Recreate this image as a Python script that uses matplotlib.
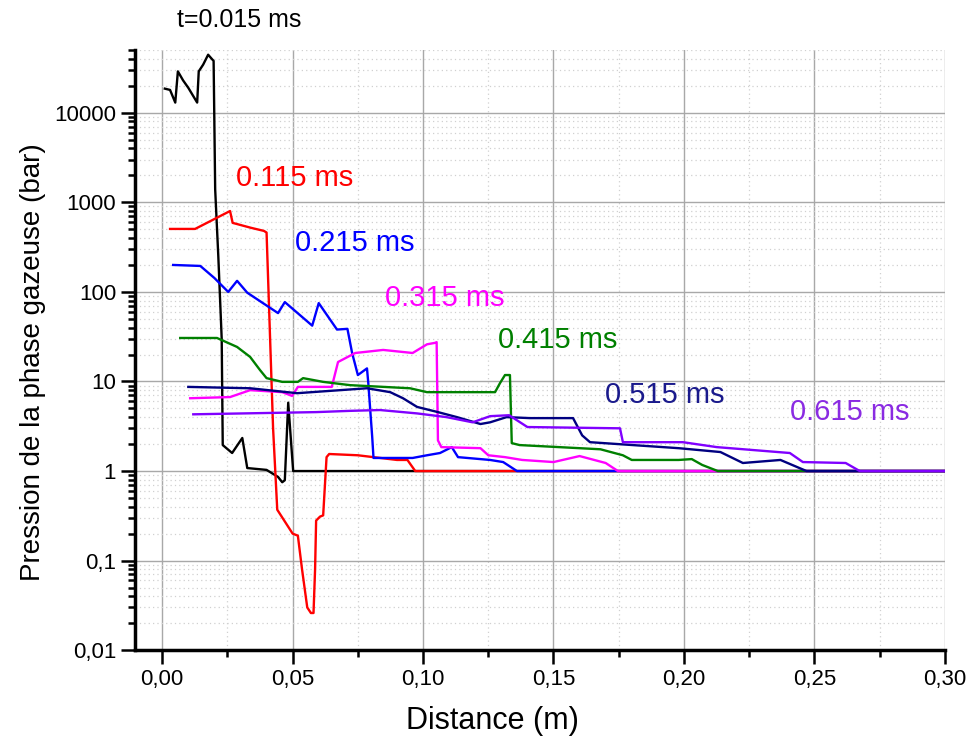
import matplotlib
matplotlib.use('Agg')
import matplotlib.pyplot as plt
import matplotlib.ticker as tkr

plt.rcParams['font.family'] = ['Liberation Sans', 'DejaVu Sans']

# pressure profiles (x in m, p in bar)
black_x = [0.001, 0.003, 0.005, 0.006, 0.008, 0.010, 0.0134, 0.014, 0.0157, 0.0176, 0.019, 0.0197,
           0.0203, 0.0215, 0.0228, 0.0232, 0.0268, 0.0307, 0.0326, 0.040, 0.0444, 0.046, 0.047,
           0.0483, 0.0502, 0.30]
black_y = [18600, 18000, 13000, 29000, 23000, 19000, 13000, 29000, 34500, 44500, 40000, 38000,
           1400, 250, 30, 1.95, 1.59, 2.34, 1.08, 1.03, 0.86, 0.75, 0.79,
           5.8, 1.0, 1.0]

red_x = [0.003, 0.0126, 0.026, 0.027, 0.034, 0.039, 0.0400, 0.0425, 0.0441, 0.050, 0.052, 0.0536,
         0.0556, 0.057, 0.058, 0.0586, 0.059, 0.0605, 0.0617, 0.063, 0.064, 0.075, 0.090, 0.094,
         0.097, 0.30]
red_y = [505, 505, 800, 590, 520, 480, 460, 3.0, 0.37, 0.20, 0.19, 0.08,
         0.030, 0.026, 0.026, 0.08, 0.28, 0.31, 0.32, 1.43, 1.55, 1.5, 1.33, 1.33,
         1.0, 1.0]

blue_x = [0.0042, 0.0146, 0.020, 0.0253, 0.0287, 0.0326, 0.0444, 0.047, 0.0575, 0.060, 0.067, 0.071,
          0.0728, 0.075, 0.0785, 0.079, 0.0805, 0.081, 0.0874, 0.096, 0.1015, 0.1065, 0.111, 0.1134,
          0.1257, 0.1307, 0.136, 0.30]
blue_y = [200, 195, 143, 100, 133, 98, 58, 77, 42, 75, 38, 38.7,
          20.8, 11.8, 14, 9.6, 2.4, 1.4, 1.4, 1.4, 1.5, 1.59, 1.85, 1.43,
          1.33, 1.26, 1.0, 1.0]

magenta_x = [0.0107, 0.026, 0.0337, 0.046, 0.0498, 0.052, 0.065, 0.0674, 0.074, 0.0847, 0.096, 0.1015,
             0.1046, 0.1052, 0.1057, 0.107, 0.122, 0.125, 0.1314, 0.138, 0.150, 0.160, 0.170, 0.1747,
             0.30]
magenta_y = [6.5, 6.7, 8.0, 7.6, 6.9, 8.7, 8.7, 16.5, 20.8, 22.5, 20.8, 26,
             27, 27.5, 2.2, 1.85, 1.8, 1.5, 1.43, 1.33, 1.26, 1.47, 1.23, 1.0,
             1.0]

green_x = [0.0069, 0.021, 0.0287, 0.0337, 0.0375, 0.040, 0.046, 0.052, 0.054, 0.0617, 0.072, 0.095,
           0.1015, 0.1276, 0.1295, 0.1314, 0.1333, 0.134, 0.137, 0.160, 0.168, 0.1766, 0.180, 0.198,
           0.203, 0.207, 0.213, 0.30]
green_y = [30.6, 30.6, 24.3, 18.8, 13.4, 10.9, 9.9, 9.9, 10.9, 9.9, 9.1, 8.4,
           7.6, 7.6, 9.6, 11.8, 11.8, 2.05, 1.95, 1.8, 1.75, 1.5, 1.33, 1.33,
           1.36, 1.17, 1.0, 1.0]

navy_x = [0.010, 0.0337, 0.0517, 0.0785, 0.0874, 0.0923, 0.0977, 0.1057, 0.113, 0.122, 0.1257, 0.132,
          0.141, 0.1575, 0.161, 0.164, 0.198, 0.214, 0.2226, 0.237, 0.247, 0.30]
navy_y = [8.7, 8.4, 7.4, 8.4, 7.6, 6.5, 5.2, 4.55, 4.0, 3.35, 3.5, 4.0,
          3.9, 3.9, 2.5, 2.1, 1.8, 1.63, 1.23, 1.33, 1.0, 1.0]

purple_x = [0.0119, 0.059, 0.072, 0.0835, 0.0977, 0.109, 0.119, 0.1257, 0.133, 0.140, 0.1755, 0.1766,
            0.1996, 0.2126, 0.2406, 0.2456, 0.262, 0.2674, 0.30]
purple_y = [4.3, 4.55, 4.7, 4.8, 4.4, 4.0, 3.5, 4.1, 4.2, 3.1, 3.0, 2.1,
            2.1, 1.85, 1.59, 1.26, 1.23, 1.0, 1.0]

# curve labels
labels = ['t=0.015 ms', '0.115 ms', '0.215 ms', '0.315 ms', '0.415 ms', '0.515 ms', '0.615 ms']
label_x = [0.0055, 0.0284, 0.051, 0.0854, 0.1287, 0.1697, 0.2406]
label_y = [109000, 1878, 352, 85.7, 29.1, 7.07, 4.56]

y_ticks = [0.01, 0.1, 1, 10, 100, 1000, 10000]
y_tick_labels = ['0,01', '0,1', '1', '10', '100', '1000', '10000']
x_ticks = [0.0, 0.05, 0.10, 0.15, 0.20, 0.25, 0.30]
x_tick_labels = ['0,00', '0,05', '0,10', '0,15', '0,20', '0,25', '0,30']

colors = ['black', '#ff0000', '#0000ff', '#ff00ff', '#008000', '#000080', '#8000ff']
text_colors = ['black', '#ff0000', '#0000ff', '#ff00ff', '#008000', '#1a1a8c', '#8a2be2']

fig = plt.figure(figsize=(9.7, 7.38), dpi=100)
ax = fig.add_axes([0.139, 0.119, 0.835, 0.813])

curves = [(black_x, black_y), (red_x, red_y), (blue_x, blue_y), (magenta_x, magenta_y),
          (green_x, green_y), (navy_x, navy_y), (purple_x, purple_y)]
for (xs, ys), c in zip(curves, colors):
    ax.plot(xs, ys, color=c, lw=1.7)

ax.set_yscale('log')
ax.set_xlim(-0.0105, 0.30)
ax.set_ylim(0.01, 50000)

ax.set_xticks(x_ticks)
ax.set_xticklabels(x_tick_labels)
ax.xaxis.set_minor_locator(tkr.MultipleLocator(0.025))
ax.set_yticks(y_ticks)
ax.set_yticklabels(y_tick_labels)
ax.yaxis.set_minor_locator(tkr.LogLocator(base=10, subs=range(2, 10), numticks=20))
ax.yaxis.set_minor_formatter(tkr.NullFormatter())

ax.grid(True, which='major', color='#a8a8a8', lw=1.0)
ax.grid(True, which='minor', color='#d0d0d0', lw=0.9, linestyle=(0, (1, 2.5)))
ax.set_axisbelow(True)

for s in ['top', 'right']:
    ax.spines[s].set_visible(False)
for s in ['left', 'bottom']:
    ax.spines[s].set_linewidth(2.5)

ax.tick_params(which='major', direction='out', length=10, width=1.8, labelsize=16)
ax.tick_params(which='minor', direction='out', length=5, width=1.8)

ax.set_xlabel('Distance (m)', fontsize=22)
ax.xaxis.set_label_coords(0.442, -0.093)
ax.set_ylabel('Pression de la phase gazeuse (bar)', fontsize=20)
ax.yaxis.set_label_coords(-0.11, 0.48)

for t, tx, ty, c in zip(labels, label_x, label_y, text_colors):
    ax.text(tx, ty, t, color=c, fontsize=21 if t[0] != 't' else 18,
            ha='left', va='center', clip_on=False)

fig.savefig('out.png', dpi=100)
